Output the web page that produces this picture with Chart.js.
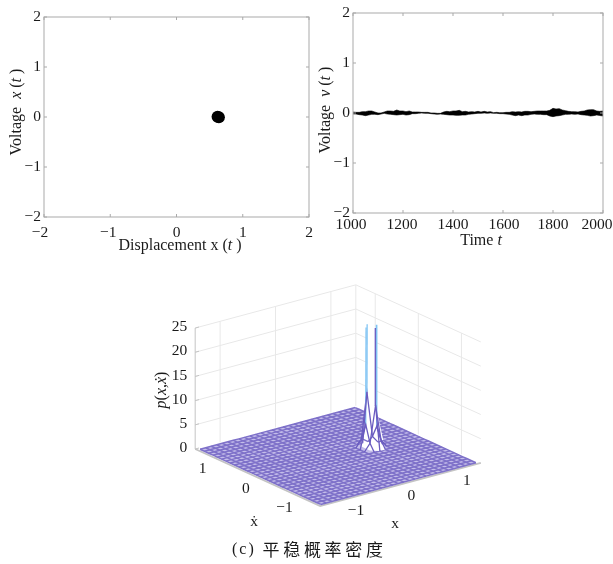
<!DOCTYPE html>
<html><head><meta charset="utf-8">
<style>html,body{margin:0;padding:0;background:#fff;width:613px;height:564px;overflow:hidden}canvas{position:absolute;display:block}</style>
<script src="https://cdn.jsdelivr.net/npm/chart.js@4"></script></head><body>
<canvas id="a" width="330" height="262" style="left:0;top:0"></canvas>
<canvas id="b" width="300" height="262" style="left:313px;top:0"></canvas>
<canvas id="c" width="370" height="284" style="left:130px;top:280px"></canvas>
<script>
// ---- data ----
const phaseTicks = [-2, -1, 0, 1, 2];
const timeTicks = [1000, 1200, 1400, 1600, 1800, 2000];
const phaseX = [0.62, 0.64];
const phaseV = [0.005, -0.005];
const timeValues = [1000,1012,1025,1037,1050,1062,1075,1087,1100,1112,1125,1137,1150,1162,1175,1187,1200,1212,1225,1237,1250,1262,1275,1287,1300,1312,1325,1337,1350,1362,1375,1387,1400,1412,1425,1437,1450,1462,1475,1487,1500,1512,1525,1537,1550,1562,1575,1587,1600,1612,1625,1637,1650,1662,1675,1687,1700,1712,1725,1737,1750,1762,1775,1787,1800,1812,1825,1837,1850,1862,1875,1887,1900,1912,1925,1937,1950,1962,1975,1987,2000];
const voltageUpper = [.02,.013,.013,.027,.027,.04,.04,.02,.0,.0,.02,.04,.04,.033,.06,.04,.04,.027,.04,.02,.02,.02,.013,.013,.013,.0,.0,-.007,-.007,.02,.033,.027,.04,.04,.053,.027,.033,.02,.027,.02,.033,.02,.033,.02,.027,.007,.013,.007,.007,.013,.013,.027,.02,.027,.02,.033,.033,.027,.033,.04,.04,.04,.04,.053,.093,.08,.087,.06,.047,.033,.027,.027,.02,.033,.04,.06,.067,.067,.04,.033,.04];
const voltageLower = [-.02,-.02,-.033,-.04,-.053,-.04,-.027,-.027,-.033,-.02,-.007,-.02,-.027,-.033,-.04,-.033,-.027,-.04,-.033,-.013,-.013,-.007,.0,-.007,-.007,-.013,-.02,-.027,-.02,-.027,-.033,-.04,-.04,-.047,-.047,-.04,-.04,-.027,-.02,-.013,-.007,-.007,-.0,-.007,-.0,-.007,-.007,-.013,-.013,-.02,-.027,-.04,-.053,-.04,-.053,-.04,-.04,-.027,-.02,-.027,-.027,-.033,-.033,-.06,-.073,-.06,-.053,-.04,-.027,-.027,-.02,-.027,-.02,-.033,-.04,-.047,-.06,-.053,-.04,-.05,-.06];
const gridNodes = [-1.4,-1.3,-1.2,-1.1,-1,-.9,-.8,-.7,-.6,-.5,-.4,-.3,-.2,-.1,0,.1,.2,.3,.4,.5,.6,.7,.8,.9,1,1.1,1.2,1.3,1.4];
// density nodes that rise above the flat floor: [x, xdot, p]; the box clips p at 25
const peakNodes = [[.6,0,300],[.6,.1,11],[.6,-.1,9],[.5,0,5],[.7,0,4],[.5,.1,1.5],[.5,-.1,1.5],[.7,.1,1.5],[.7,-.1,1.5]];
const peakOutline = [[.6,.1,25],[.6,-.1,25],[.6,-.1,9],[.7,-.2,0],[.6,-.2,0],[.5,-.1,0],[.5,.1,0],[.6,.1,11],[.6,.1,25]];
const axisTicks3d = [-1, 0, 1];
const pTicks = [0, 5, 10, 15, 20, 25];
const axisLimit = 1.45;
const pLimit = 25;

// ---- shared styling ----
const SERIF = '"Liberation Serif", serif';
const GREY = '#a9a9a9';
const label = v => String(v).replace('-', '\u2212');
function spans(ctx, parts, cx, cy, rot) {
  ctx.save(); ctx.translate(cx, cy); ctx.rotate(rot || 0);
  ctx.fillStyle = '#1a1a1a'; ctx.textBaseline = 'middle'; ctx.textAlign = 'left';
  let w = 0;
  parts.forEach(p => { ctx.font = (p[1] ? 'italic ' : '') + '16px ' + SERIF; w += ctx.measureText(p[0]).width; });
  let x = -w / 2;
  parts.forEach(p => { ctx.font = (p[1] ? 'italic ' : '') + '16px ' + SERIF; ctx.fillText(p[0], x, 0); x += ctx.measureText(p[0]).width; });
  ctx.restore();
}
const frame = (xLabel, yLabel, shifts) => ({
  id: 'frame',
  beforeDraw(ch) {
    ch.scales.x.getLabelItems(ch.chartArea).forEach((it, i) => { if (!it._moved) { it.options.translation[0] += shifts[i] || 0; it._moved = true; } });
  },
  afterDraw(ch) {
    const c = ch.ctx, a = ch.chartArea, sx = ch.scales.x, sy = ch.scales.y;
    c.save(); c.strokeStyle = GREY; c.lineWidth = 1;
    c.strokeRect(a.left, a.top, a.right - a.left, a.bottom - a.top);
    c.beginPath();
    sx.ticks.forEach(t => { const p = sx.getPixelForValue(t.value);
      c.moveTo(p, a.top); c.lineTo(p, a.top + 3); c.moveTo(p, a.bottom); c.lineTo(p, a.bottom - 3); });
    sy.ticks.forEach(t => { const p = sy.getPixelForValue(t.value);
      c.moveTo(a.left, p); c.lineTo(a.left + 3, p); c.moveTo(a.right, p); c.lineTo(a.right - 3, p); });
    c.stroke(); c.restore();
    spans(c, xLabel.parts, xLabel.x, xLabel.y);
    spans(c, yLabel.parts, yLabel.x, yLabel.y, -Math.PI / 2);
  }
});
const axis2d = (ticks, min, max, fit, pad) => ({
  type: 'linear', min, max, afterBuildTicks(s) { s.ticks = ticks.map(value => ({ value })); },
  afterFit(s) { if (s.axis === 'x') s.height = fit; else s.width = fit; s.paddingLeft = s.paddingRight = s.paddingTop = s.paddingBottom = 0; },
  border: { display: false }, grid: { display: false, drawTicks: false },
  ticks: { autoSkip: false, maxRotation: 0, padding: pad, color: '#1a1a1a', font: { family: SERIF, size: 15.5 }, callback: v => label(v) }
});
const base = { responsive: false, animation: false, plugins: { legend: { display: false }, tooltip: { enabled: false } } };

new Chart(document.getElementById('a'), {
  type: 'scatter',
  data: { datasets: [{ data: phaseX.map((x, i) => ({ x, y: phaseV[i] })), pointRadius: 6, backgroundColor: '#000', borderWidth: 0 }] },
  options: { ...base, layout: { padding: { top: 17, right: 21, left: 0, bottom: 0 } },
    scales: { x: axis2d(phaseTicks, -2, 2, 45, 7), y: axis2d(phaseTicks, -2, 2, 44, 3) } },
  plugins: [frame({ parts: [['Displacement x (', 0], ['t', 1], [' )', 0]], x: 180, y: 246 },
                   { parts: [['Voltage  ', 0], ['x', 1], [' (', 0], ['t', 1], [' )', 0]], x: 17, y: 112 }, [-4, -2, 0, 0, 0])]
});

new Chart(document.getElementById('b'), {
  type: 'line',
  data: { labels: timeValues, datasets: [
    { data: timeValues.map((x, i) => ({ x, y: voltageUpper[i] })), borderColor: '#000', borderWidth: .6, pointRadius: 0, fill: '+1', backgroundColor: '#000' },
    { data: timeValues.map((x, i) => ({ x, y: voltageLower[i] })), borderColor: '#000', borderWidth: .6, pointRadius: 0 }
  ] },
  options: { ...base, layout: { padding: { top: 13, right: 10, left: 0, bottom: 0 } },
    scales: { x: axis2d(timeTicks, 1000, 2000, 49, 3), y: axis2d(phaseTicks, -2, 2, 40, 3) } },
  plugins: [frame({ parts: [['Time ', 0], ['t', 1]], x: 168, y: 241 },
                   { parts: [['Voltage  ', 0], ['v', 1], [' (', 0], ['t', 1], [' )', 0]], x: 13, y: 110 }, [-2, -1, 0, 1, 0, -6])]
});

// ---- oblique view of the box: screen position of (x, xdot, p) ----
const view = { ox: 338, oy: 456, xx: 55.4, xy: -14.9, yx: -43.1, yy: -19.7, pz: 4.84 };
const at = (x, d, p) => ({ x: view.ox + x * view.xx + d * view.yx, y: view.oy + x * view.xy + d * view.yy - (p || 0) * view.pz });
const L = axisLimit;
const heightAt = (x, d) => { const n = peakNodes.find(m => Math.abs(m[0] - x) < 1e-6 && Math.abs(m[1] - d) < 1e-6); return n ? n[2] : 0; };
const ds = [];
const seg = (pts, color, width, order) => ds.push({ data: pts, borderColor: color, borderWidth: width, pointRadius: 0, order, tension: 0 });

// walls
const WALL = '#e8e8e8';
pTicks.slice(1).forEach(p => { seg([at(-L, L, p), at(L, L, p), at(L, -L, p)], WALL, 1, 20); });
axisTicks3d.forEach(t => { seg([at(t, L, 0), at(t, L, 25)], WALL, 1, 20); seg([at(L, t, 0), at(L, t, 25)], WALL, 1, 20); });
seg([at(L, L, 0), at(L, L, 25)], WALL, 1, 20);
// axes
seg([at(-L, L, 0), at(-L, L, 25)], '#c4c4c4', 1, 19);
seg([at(-L, L, 0), at(-L, -L, 0), at(L, -L, 0)], '#c4c4c4', 1.8, 19);
pTicks.forEach(p => seg([at(-L, L, p), at(-L + .07, L, p)], '#c4c4c4', 1, 19));
axisTicks3d.forEach(t => { seg([at(t, -L, 0), at(t, -L + .07, 0)], '#c4c4c4', 1, 19); seg([at(-L, t, 0), at(-L + .07, t, 0)], '#c4c4c4', 1, 19); });

// surface: pale floor under the mesh
const E = gridNodes[gridNodes.length - 1];
ds.push({ data: [at(-E, -E, 0), at(E, -E, 0), at(E, E, 0), at(-E, E, 0), at(-E, -E, 0)], borderWidth: 0, pointRadius: 0, fill: 'shape', backgroundColor: '#c4bdea', order: 7 });

// surface mesh, clipped at the top of the box
const FLAT = '#7e71c9';
const cut = nodes => {
  const out = [];
  nodes.forEach((n, i) => {
    const prev = nodes[i - 1];
    if (prev && (prev[2] > pLimit) !== (n[2] > pLimit)) {
      const f = (pLimit - prev[2]) / (n[2] - prev[2]);
      out.push([prev[0] + (n[0] - prev[0]) * f, prev[1] + (n[1] - prev[1]) * f, pLimit]);
    }
    out.push(n);
  });
  return out;
};
const meshLine = raw => {
  const nodes = cut(raw);
  const raised = raw.some(n => n[2] > 0);
  const pts = nodes.map(n => n[2] > pLimit ? { x: NaN, y: NaN } : at(n[0], n[1], n[2]));
  const top = c => Math.max(nodes[c.p0DataIndex][2], nodes[c.p1DataIndex][2]);
  ds.push({ data: pts, borderColor: FLAT, borderWidth: 1.5, pointRadius: 0, order: raised ? 1 : 6, spanGaps: false,
    segment: raised ? {
      borderWidth: c => top(c) > 0 ? 1.3 : 1.5,
      borderColor: c => {
        const t = top(c);
        if (t === 0) return FLAT;
        if (t <= 11) return '#6a5cc0';
        return Math.min(nodes[c.p0DataIndex][1], nodes[c.p1DataIndex][1]) < -.02 ? '#6a5cc0' : '#7fc3f3';
      } } : undefined });
};
gridNodes.forEach(x => meshLine(gridNodes.map(d => [x, d, heightAt(x, d)])));
gridNodes.forEach(d => meshLine(gridNodes.map(x => [x, d, heightAt(x, d)])));
ds.push({ data: peakOutline.map(n => at(n[0], n[1], n[2])), borderWidth: 0, pointRadius: 0, fill: 'shape', backgroundColor: '#fff', order: 5 });

const text3d = {
  id: 'text3d',
  afterDraw(ch) {
    const c = ch.ctx, sx = ch.scales.x, sy = ch.scales.y;
    const put = (s, p, dx, dy, align) => { c.textAlign = align; c.fillText(s, sx.getPixelForValue(p.x) + dx, sy.getPixelForValue(p.y) + dy); };
    c.save(); c.fillStyle = '#1a1a1a'; c.textBaseline = 'middle'; c.font = '15.5px ' + SERIF;
    pTicks.forEach(p => put(String(p), at(-L, L, p), -8, -1, 'right'));
    axisTicks3d.forEach(t => { put(label(t), at(t, -L, 0), 11, 11, 'center'); put(label(t), at(-L, t, 0), -8, 11, 'right'); });
    put('x', { x: 395, y: 524 }, 0, 0, 'center');
    put('\u1E8B', { x: 254, y: 522 }, 0, 0, 'center');
    c.restore();
    spans(c, [['p', 1], ['(', 0], ['x', 1], [',', 0], ['\u1E8B', 1], [')', 0]], sx.getPixelForValue(162), sy.getPixelForValue(390), -Math.PI / 2);
    c.save(); c.fillStyle = '#1a1a1a'; c.textBaseline = 'middle'; c.textAlign = 'left';
    c.font = '16px ' + SERIF; c.letterSpacing = '2px';
    c.fillText('(c)', sx.getPixelForValue(232), sy.getPixelForValue(550));
    c.font = '17px "Noto Sans CJK SC", ' + SERIF; c.letterSpacing = '3.7px';
    c.fillText('\u5E73\u7A33\u6982\u7387\u5BC6\u5EA6', sx.getPixelForValue(262.5), sy.getPixelForValue(550));
    c.restore();
  }
};
new Chart(document.getElementById('c'), {
  type: 'scatter',
  data: { datasets: ds.map(d => ({ showLine: true, ...d })) },
  options: { ...base, layout: { padding: 0 }, scales: {
    x: { type: 'linear', display: false, min: 130, max: 500 },
    y: { type: 'linear', display: false, min: 280, max: 564, reverse: true } } },
  plugins: [text3d]
});
</script></body></html>
